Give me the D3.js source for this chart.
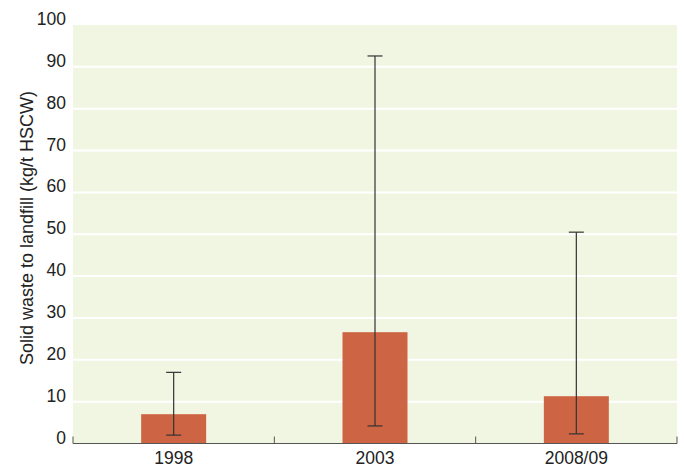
<!DOCTYPE html>
<html>
<head>
<meta charset="utf-8">
<script src="https://cdn.jsdelivr.net/npm/d3@7"></script>
<style>
  body { margin: 0; background: #fff; }
  text { font-family: "Liberation Sans", Arial, sans-serif; fill: #222; }
</style>
</head>
<body>
<svg id="chart" width="684" height="466"></svg>
<script>
const years = ["1998", "2003", "2008/09"];
const means = [7.0, 26.6, 11.3];
const lows = [2.0, 4.2, 2.3];
const highs = [17.0, 92.6, 50.5];
const yTicks = [0, 10, 20, 30, 40, 50, 60, 70, 80, 90, 100];

const data = years.map((y, i) => ({ year: y, mean: means[i], low: lows[i], high: highs[i] }));

const margin = { top: 25, right: 7, bottom: 22.5, left: 73 };
const width = 684 - margin.left - margin.right;
const height = 466 - margin.top - margin.bottom;

const svg = d3.select("#chart");
const g = svg.append("g").attr("transform", `translate(${margin.left},${margin.top})`);

const x = d3.scaleBand().domain(years).range([0, width]);
const y = d3.scaleLinear().domain([0, 100]).range([height, 0]);

// plot background
g.append("rect")
    .attr("width", width)
    .attr("height", height)
    .attr("fill", "#f1f6e2");

// white gridlines
g.selectAll(".grid")
    .data(yTicks.filter(d => d > 0 && d < 100))
    .enter()
    .append("line")
    .attr("x1", 0)
    .attr("x2", width)
    .attr("y1", d => y(d))
    .attr("y2", d => y(d))
    .attr("stroke", "#fff")
    .attr("stroke-width", 2);

// y tick labels, baseline sits on the gridline
g.selectAll(".ylab")
    .data(yTicks)
    .enter()
    .append("text")
    .attr("x", -7)
    .attr("y", d => y(d))
    .attr("text-anchor", "end")
    .attr("font-size", 17.5)
    .text(d => d);

// bars
const barW = 65;
g.selectAll(".bar")
    .data(data)
    .enter()
    .append("rect")
    .attr("class", "bar")
    .attr("x", d => x(d.year) + x.bandwidth() / 2 - barW / 2)
    .attr("y", d => y(d.mean))
    .attr("width", barW)
    .attr("height", d => height - y(d.mean))
    .attr("fill", "#cd6544");

// error bars
const capW = 15;
const err = g.selectAll(".err").data(data).enter().append("g")
    .attr("transform", d => `translate(${x(d.year) + x.bandwidth() / 2},0)`)
    .attr("stroke", "#333")
    .attr("stroke-width", 1.2);
err.append("line").attr("y1", d => y(d.low)).attr("y2", d => y(d.high));
err.append("line").attr("x1", -capW / 2).attr("x2", capW / 2)
    .attr("y1", d => y(d.high)).attr("y2", d => y(d.high));
err.append("line").attr("x1", -capW / 2).attr("x2", capW / 2)
    .attr("y1", d => y(d.low)).attr("y2", d => y(d.low));

// x axis with ticks between categories
const xAxis = g.append("g").attr("transform", `translate(0,${height})`);
xAxis.append("line").attr("x1", 0).attr("x2", width).attr("stroke", "#555").attr("stroke-width", 1.2);
const bounds = [0].concat(years.map(d => x(d) + x.bandwidth()));
xAxis.selectAll(".tick")
    .data(bounds)
    .enter()
    .append("line")
    .attr("x1", d => d)
    .attr("x2", d => d)
    .attr("y1", 0)
    .attr("y2", -7)
    .attr("stroke", "#555");
xAxis.selectAll(".xlab")
    .data(years)
    .enter()
    .append("text")
    .attr("x", d => x(d) + x.bandwidth() / 2)
    .attr("y", 20)
    .attr("text-anchor", "middle")
    .attr("font-size", 17.5)
    .text(d => d);

// y axis title
svg.append("text")
    .attr("transform", "translate(33,228) rotate(-90)")
    .attr("text-anchor", "middle")
    .attr("font-size", 18)
    .text("Solid waste to landfill (kg/t HSCW)");
</script>
</body>
</html>
